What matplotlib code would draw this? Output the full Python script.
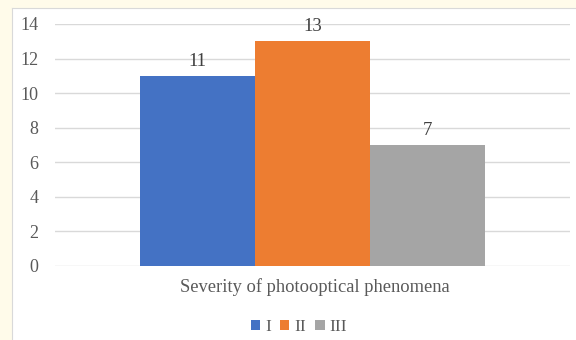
import matplotlib.pyplot as plt
from matplotlib.patches import Patch

categories = ["I", "II", "III"]
values = [11, 13, 7]
colors = ["#4472C4", "#ED7D31", "#A5A5A5"]
yticks = [0, 2, 4, 6, 8, 10, 12, 14]
xlabel = "Severity of photooptical phenomena"

plt.rcParams["font.family"] = ["Liberation Serif", "DejaVu Serif"]
text_color = "#595959"

fig = plt.figure(figsize=(5.76, 3.40), dpi=100)
fig.patch.set_facecolor("#FFFBEA")

# white chart panel behind everything
panel = fig.add_axes([12 / 576, -0.01, 1 - 12 / 576 + 0.01, 1 - 8 / 340 + 0.01], zorder=-1)
panel.set_facecolor("white")
panel.set_xticks([])
panel.set_yticks([])
for s in panel.spines.values():
    s.set_color("#D9D9D9")

ax = fig.add_axes([55 / 576, 1 - 266 / 340, 515 / 576, 242 / 340], zorder=1)
ax.set_facecolor("none")
xs = [-1, 0, 1]
ax.bar(xs, values, width=1.0, color=colors, zorder=3)
for x, v in zip(xs, values):
    ax.text(x, v + 0.58, str(v), ha="center", va="baseline", fontsize=13.5,
            color="#404040")

ax.set_xlim(-2.245, 2.245)
ax.set_ylim(0, 14)
ax.set_yticks(yticks)
ax.set_xticks([])
ax.yaxis.grid(True, color="#D9D9D9", lw=1)
ax.set_axisbelow(True)
for s in ax.spines.values():
    s.set_visible(False)
ax.tick_params(axis="y", length=0, pad=12, labelsize=13, labelcolor=text_color)

fig.text(315 / 576, 1 - 287 / 340, xlabel, ha="center", va="center",
         fontsize=13.3, color=text_color)

handles = [Patch(facecolor=c, label=l) for c, l in zip(colors, categories)]
fig.legend(handles=handles, loc="center", bbox_to_anchor=(299 / 576, 1 - 327 / 340),
           ncol=3, frameon=False, fontsize=12.5, handlelength=0.55, handleheight=0.55,
           handletextpad=0.3, columnspacing=0.5, labelcolor=text_color)

fig.savefig("out.png", dpi=100, facecolor=fig.get_facecolor())
